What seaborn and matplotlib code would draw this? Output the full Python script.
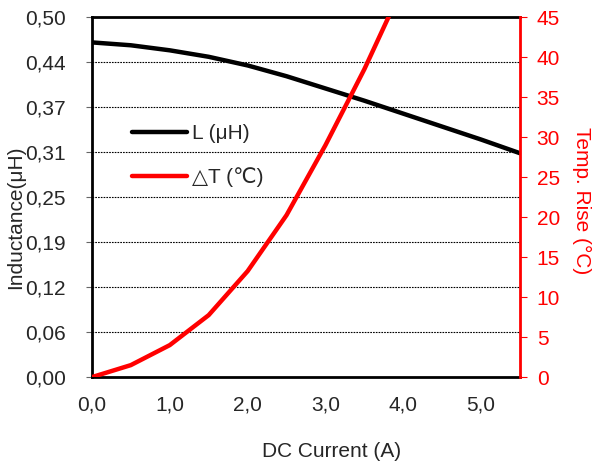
import numpy as np
import pandas as pd
import matplotlib
matplotlib.use("Agg")
import matplotlib.pyplot as plt
import seaborn as sns

# data
current = [0.0, 0.5, 1.0, 1.5, 2.0, 2.5, 3.0, 3.5, 4.0, 4.5, 5.0, 5.5]
inductance = [0.465, 0.461, 0.454, 0.445, 0.433, 0.418, 0.401, 0.384, 0.366, 0.348, 0.330, 0.311]
temp_current = [0.0, 0.5, 1.0, 1.5, 2.0, 2.5, 3.0, 3.5, 4.0]
temp_rise = [0.0, 1.5, 4.0, 7.75, 13.25, 20.25, 29.0, 38.5, 49.0]

left_ticks = [0.0, 0.0625, 0.125, 0.1875, 0.25, 0.3125, 0.375, 0.4375, 0.5]
left_labels = ["0,00", "0,06", "0,12", "0,19", "0,25", "0,31", "0,37", "0,44", "0,50"]
right_ticks = [0, 5, 10, 15, 20, 25, 30, 35, 40, 45]
x_major = [0, 1, 2, 3, 4, 5]
x_labels = ["0,0", "1,0", "2,0", "3,0", "4,0", "5,0"]
x_minor = [0.5, 1.5, 2.5, 3.5, 4.5, 5.5]

df_l = pd.DataFrame({"current": current, "L": inductance})
df_t = pd.DataFrame({"current": temp_current, "T": temp_rise})

sns.set_style("white")
plt.rcParams["font.family"] = ["Liberation Sans", "DejaVu Sans"]
fs = 15

fig = plt.figure(figsize=(5.93, 4.65), dpi=100)
ax = fig.add_axes([0.155, 0.189, 0.722, 0.774])
ax2 = ax.twinx()

sns.lineplot(data=df_l, x="current", y="L", ax=ax, color="black", linewidth=3.2,
             label="L (μH)", legend=False, zorder=3)
sns.lineplot(data=df_t, x="current", y="T", ax=ax2, color="#ff0000", linewidth=3.2,
             label="△T (℃)", legend=False)

ax.set_xlim(0, 5.5)
ax.set_ylim(0, 0.5)
ax2.set_ylim(0, 45)

ax.set_yticks(left_ticks)
ax.set_yticklabels(left_labels)
ax.set_xticks(x_major)
ax.set_xticklabels(x_labels)
ax.set_xticks(x_minor, minor=True)
ax2.set_yticks(right_ticks)

# dotted horizontal gridlines
for y in left_ticks[1:-1]:
    ax.axhline(y, color="black", linestyle=(0, (1.5, 1)), linewidth=0.8, zorder=1)

ax.tick_params(axis="y", direction="out", length=4, width=0.8, color="#666666",
               labelsize=fs, pad=15)
ax.tick_params(axis="x", which="both", direction="in", length=5, width=0.8,
               labelsize=fs, pad=13)
ax2.tick_params(axis="y", direction="out", length=5, width=0.8, color="#ff0000",
                labelcolor="#ff0000", labelsize=fs, pad=7)

for name in ["left", "bottom", "top"]:
    ax.spines[name].set_color("black")
    ax.spines[name].set_linewidth(2)
    ax2.spines[name].set_visible(False)
ax2.spines["right"].set_color("#ff0000")
ax2.spines["right"].set_linewidth(2)
ax.spines["right"].set_visible(False)

ax.set_xlabel("DC Current (A)", fontsize=fs)
ax.xaxis.set_label_coords(0.56, -0.18)
ax.set_ylabel("Inductance(μH)", fontsize=fs)
ax.yaxis.set_label_coords(-0.155, 0.445)
ax2.set_ylabel("Temp. Rise (°C)", fontsize=fs, color="#ff0000", rotation=270)
ax2.yaxis.set_label_coords(1.165, 0.49)

h1, l1 = ax.get_legend_handles_labels()
h2, l2 = ax2.get_legend_handles_labels()
ax2.legend(h1 + h2, l1 + l2, loc="upper left", bbox_to_anchor=(0.05, 0.755),
           frameon=False, fontsize=fs, handlelength=2.65, handletextpad=0.25,
           labelspacing=1.16)

fig.savefig("out.png", dpi=100)
